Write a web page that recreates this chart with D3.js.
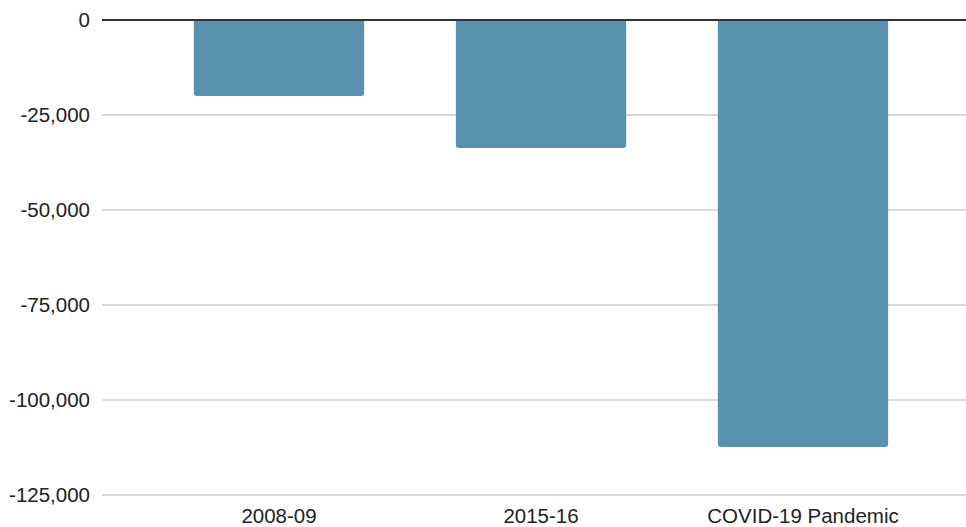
<!DOCTYPE html>
<meta charset="utf-8">
<style>
body { margin: 0; background: #fff; }
text { font-family: "Liberation Sans", Arial, sans-serif; font-size: 20.5px; fill: #222; }
.grid line { stroke: #ccc; stroke-width: 1.5; }
.zero { stroke: #333; stroke-width: 2; }
.bar { fill: #5891ae; }
</style>
<body>
<script src="https://cdn.jsdelivr.net/npm/d3@7"></script>
<script>

var categories = ["2008-09", "2015-16", "COVID-19 Pandemic"];
var values = [-20000, -33700, -112400];
var yTicks = [0, -25000, -50000, -75000, -100000, -125000];

var width = 966,
    height = 527;

var svg = d3.select("body").append("svg")
    .attr("width", width)
    .attr("height", height);

var x = d3.scaleBand()
    .domain(categories)
    .range([148, 934])
    .paddingInner(0.35)
    .paddingOuter(0.175);

var y = d3.scaleLinear()
    .domain([-125000, 0])
    .range([495, 20]);

// gridlines
svg.append("g").attr("class", "grid")
  .selectAll("line")
  .data(yTicks.filter(function(d) { return d != 0; }))
  .enter().append("line")
    .attr("x1", 102).attr("x2", width)
    .attr("y1", function(d) { return y(d); })
    .attr("y2", function(d) { return y(d); });

// y labels
var fmt = d3.format(",");
svg.append("g")
  .selectAll("text")
  .data(yTicks)
  .enter().append("text")
    .attr("x", 90)
    .attr("y", function(d) { return y(d); })
    .attr("dy", "0.36em")
    .attr("text-anchor", "end")
    .text(function(d) { return d == 0 ? "0" : "-" + fmt(-d); });

// bars with rounded bottom corners
var r = 3;
svg.append("g")
  .selectAll("path")
  .data(values)
  .enter().append("path")
    .attr("class", "bar")
    .attr("d", function(d, i) {
      var x0 = x(categories[i]), x1 = x0 + x.bandwidth();
      var y0 = y(0), y1 = y(d);
      return "M" + x0 + "," + y0 +
        "L" + x0 + "," + (y1 - r) +
        "Q" + x0 + "," + y1 + " " + (x0 + r) + "," + y1 +
        "L" + (x1 - r) + "," + y1 +
        "Q" + x1 + "," + y1 + " " + x1 + "," + (y1 - r) +
        "L" + x1 + "," + y0 + "Z";
    });

svg.append("line").attr("class", "zero")
    .attr("x1", 102).attr("x2", width)
    .attr("y1", y(0)).attr("y2", y(0));

// x labels
svg.append("g")
  .selectAll("text")
  .data(categories)
  .enter().append("text")
    .attr("x", function(d) { return x(d) + x.bandwidth() / 2; })
    .attr("y", 523)
    .attr("text-anchor", "middle")
    .text(function(d) { return d; });

</script>
</body>
